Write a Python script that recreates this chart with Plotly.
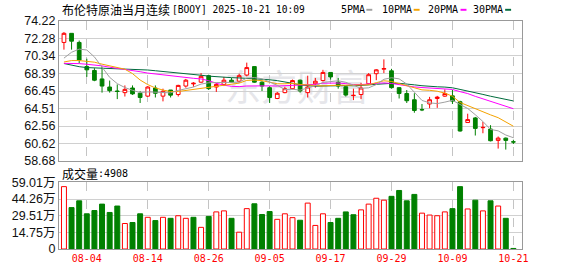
import numpy as np
import pandas as pd
import plotly.graph_objects as go

# ---------------- data ----------------
dates = [d.strftime("%Y-%m-%d") for d in pd.bdate_range("2025-07-30", "2025-10-21")]

opens = [71.84, 72.85, 71.84, 69.16, 68.73, 67.79, 66.89, 66.45, 66.27, 66.78,
         66.20, 65.88, 66.78, 65.88, 66.56, 66.06, 67.00, 67.24, 67.43, 68.15,
         66.89, 67.18, 67.65, 67.54, 68.22, 69.16, 67.43, 66.82, 65.62, 66.27,
         66.71, 67.65, 66.27, 67.25, 67.61, 68.51, 67.43, 66.92, 65.94, 66.06,
         67.25, 68.37, 68.87, 68.69, 66.82, 66.17, 65.48, 64.40, 65.01, 65.62,
         65.88, 65.91, 65.26, 62.95, 63.46, 62.38, 62.23, 60.97, 61.22, 60.81]
highs = [72.99, 72.85, 72.05, 70.03, 68.98, 69.16, 67.61, 67.18, 67.07, 67.07,
         66.42, 67.00, 67.07, 66.71, 66.56, 67.14, 67.79, 67.43, 68.44, 68.26,
         67.36, 68.01, 67.90, 68.37, 69.60, 69.16, 67.54, 66.99, 66.35, 66.92,
         67.72, 67.72, 68.15, 67.90, 68.80, 68.51, 67.90, 66.99, 66.71, 67.36,
         68.44, 68.87, 69.96, 68.91, 66.89, 66.56, 66.20, 65.01, 65.80, 65.91,
         66.63, 66.56, 65.37, 63.93, 63.57, 63.03, 62.66, 61.40, 61.29, 61.04]
lows = [71.04, 71.04, 69.52, 68.01, 67.54, 66.27, 66.27, 65.55, 65.84, 66.02,
        65.12, 65.80, 65.73, 65.30, 65.73, 65.84, 66.82, 66.92, 67.36, 66.56,
        66.35, 67.00, 67.36, 67.36, 68.08, 67.36, 66.45, 65.12, 65.55, 66.20,
        66.64, 66.27, 65.73, 66.82, 67.50, 67.72, 66.71, 65.84, 65.44, 65.55,
        67.18, 67.65, 68.44, 66.71, 65.62, 65.12, 64.04, 64.22, 64.54, 64.58,
        65.80, 65.01, 61.94, 62.95, 61.51, 61.76, 60.86, 60.06, 59.95, 60.57]
closes = [72.85, 71.98, 69.89, 68.80, 67.65, 67.00, 66.49, 66.40, 66.63, 66.13,
          65.73, 66.89, 66.20, 66.42, 65.99, 67.07, 67.65, 67.31, 68.08, 66.71,
          67.18, 67.65, 67.43, 68.15, 69.05, 67.43, 67.00, 65.73, 66.20, 66.71,
          67.61, 66.46, 66.89, 67.54, 68.51, 68.01, 67.00, 66.00, 65.97, 66.78,
          68.26, 68.80, 68.94, 66.82, 66.17, 65.37, 64.29, 64.36, 65.48, 65.77,
          66.17, 65.33, 62.01, 63.28, 62.30, 62.41, 60.93, 61.22, 60.97, 60.79]
volumes = [55.3, 36.7, 42.7, 31.2, 34.1, 39.8, 32.4, 38.1, 22.6, 23.5,
           31.2, 28.1, 25.2, 28.1, 27.2, 29.5, 27.2, 28.1, 19.2, 28.9,
           32.9, 33.8, 27.2, 14.9, 35.8, 40.1, 30.6, 33.2, 26.3, 31.2,
           27.8, 25.5, 40.7, 20.9, 31.2, 23.5, 27.2, 32.9, 30.4, 34.7,
           39.8, 45.0, 43.3, 46.7, 51.9, 42.7, 48.4, 31.8, 30.1, 29.5,
           32.9, 35.8, 55.3, 35.5, 43.3, 33.8, 42.7, 38.1, 27.2, 0.4908]

ma5_head = [70.10, 70.75, 71.10, 71.00]
ma10_head = [69.67, 69.83, 69.83, 69.78, 69.65, 69.43, 69.23, 69.10, 68.87]
ma20_head = [69.52, 69.52, 69.49, 69.42, 69.34, 69.24, 69.09, 68.98, 68.87, 68.69,
             68.59, 68.44, 68.33, 68.22, 68.15, 68.05, 67.93, 67.86, 67.79]
ma30_head = [69.50, 69.30, 69.15, 69.05, 69.02, 69.00, 68.98, 68.96, 68.93, 68.90,
             68.84, 68.78, 68.70, 68.63, 68.54, 68.45, 68.35, 68.27, 68.20, 68.10,
             68.02, 67.97, 67.93, 67.90, 67.86, 67.82, 67.77, 67.70, 67.60]

price_ticks = [58.68, 60.62, 62.56, 64.51, 66.45, 68.39, 70.34, 72.28, 74.22]
price_tick_text = ["58.68", "60.62", "62.56", "64.51", "66.45", "68.39", "70.34", "72.28", "74.22"]
vol_ticks = [0, 14.75, 29.51, 44.26, 59.01]
vol_tick_text = ["0", "14.75万", "29.51万", "44.26万", "59.01万"]
tick_dates = ["2025-08-04", "2025-08-14", "2025-08-26", "2025-09-05",
              "2025-09-17", "2025-09-29", "2025-10-09", "2025-10-21"]
tick_text = ["08-04", "08-14", "08-26", "09-05", "09-17", "09-29", "10-09", "10-21"]

title_cn = "布伦特原油当月连续"
title_code = "[BOOY] 2025-10-21 10:09"
vol_title = "成交量"
vol_last = ":4908"
ma_names = ["5PMA", "10PMA", "20PMA", "30PMA"]
watermark = "东方财富"

# ---------------- helpers ----------------
def moving_avg(head, n):
    c = np.array(closes)
    return list(head) + [float(c[i - n + 1:i + 1].mean()) for i in range(n - 1, len(c))]

ma5 = moving_avg(ma5_head, 5)
ma10 = moving_avg(ma10_head, 10)
ma20 = moving_avg(ma20_head, 20)
ma30 = moving_avg(ma30_head, 30)

RED = "#ff0000"
GREEN = "#008000"
MA_COLORS = ["#a0a0a0", "#f5a300", "#ff00ff", "#006b3c"]

W, H = 578, 276
ML, MR, MT, MB = 55, 56, 21, 21
PW, PH = W - ML - MR, H - MT - MB

def px(x):
    return (x - ML) / PW

def py(y):
    return (H - MB - y) / PH

up_vol = [closes[0] >= opens[0]] + [closes[i] >= closes[i - 1] for i in range(1, len(closes))]

fig = go.Figure()

fig.add_trace(go.Candlestick(
    x=dates, open=opens, high=highs, low=lows, close=closes,
    increasing=dict(line=dict(color=RED, width=1), fillcolor="#ffffff"),
    decreasing=dict(line=dict(color=GREEN, width=1), fillcolor=GREEN),
    whiskerwidth=0, showlegend=False, xaxis="x", yaxis="y"))

for vals, col in zip([ma30, ma20, ma10, ma5], MA_COLORS[::-1]):
    fig.add_trace(go.Scatter(x=dates, y=vals, mode="lines",
                             line=dict(color=col, width=1),
                             showlegend=False, hoverinfo="skip",
                             xaxis="x", yaxis="y"))

fig.add_trace(go.Bar(
    x=dates, y=volumes,
    marker=dict(color=["#ffffff" if u else GREEN for u in up_vol],
                line=dict(color=[RED if u else GREEN for u in up_vol], width=1)),
    showlegend=False, xaxis="x2", yaxis="y2"))

xcommon = dict(type="category", categoryorder="array", categoryarray=dates,
               range=[-0.65, 60.13], tickvals=tick_dates, ticktext=tick_text,
               showgrid=True, gridcolor="#c4c4c4", griddash="dash", gridwidth=1,
               showline=True, mirror=True, linecolor="#999999", linewidth=1,
               ticks="", zeroline=False, fixedrange=True)

fig.update_layout(
    width=W, height=H,
    margin=dict(l=ML, r=MR, t=MT, b=MB),
    paper_bgcolor="#ffffff", plot_bgcolor="#ffffff",
    bargap=0.35,
    xaxis=dict(**xcommon, anchor="y", showticklabels=False,
               rangeslider=dict(visible=False)),
    xaxis2=dict(**xcommon, anchor="y2", matches="x", showticklabels=True,
                tickfont=dict(family="DejaVu Sans Mono", size=10, color=RED)),
    yaxis=dict(domain=[py(164.7), 1.0], range=[58.68, 74.22],
               tickvals=price_ticks, ticktext=price_tick_text,
               showgrid=True, gridcolor="#d0d0d0", gridwidth=1,
               showline=True, mirror=True, linecolor="#999999", linewidth=1,
               ticks="", zeroline=False, fixedrange=True,
               tickfont=dict(family="Liberation Sans", size=12.5, color="#111111")),
    yaxis2=dict(domain=[0, py(186.7)], range=[0, 59.01],
                tickvals=vol_ticks, ticktext=vol_tick_text,
                showgrid=True, gridcolor="#d0d0d0", gridwidth=1,
                showline=True, mirror=True, linecolor="#999999", linewidth=1,
                ticks="", zeroline=False, fixedrange=True,
                tickfont=dict(family="Liberation Sans, Noto Sans CJK SC", size=12.5, color="#111111")),
)

ann = []
ann.append(dict(x=px(57), y=py(9.5), text=title_cn, showarrow=False, xanchor="left",
                yanchor="middle", font=dict(family="Noto Sans CJK SC", size=12, color="#000")))
ann.append(dict(x=px(168), y=py(9.5), text=title_code, showarrow=False, xanchor="left",
                yanchor="middle", font=dict(family="DejaVu Sans Mono", size=9.6, color="#000")))
ann.append(dict(x=px(57), y=py(177.5), text=vol_title, showarrow=False, xanchor="left",
                yanchor="middle", font=dict(family="Noto Sans CJK SC", size=12, color="#000")))
ann.append(dict(x=px(93), y=py(177.5), text=vol_last, showarrow=False, xanchor="left",
                yanchor="middle", font=dict(family="DejaVu Sans Mono", size=10, color="#000")))

legend_x = [338, 380, 425.7, 471.7]
dash_x = [365, 412.7, 460, 505]
shapes = []
# faint watermark, drawn beneath the data
shapes.append(dict(type="rect", xref="paper", yref="paper", layer="below",
                   x0=px(215), x1=px(375), y0=py(110), y1=py(75),
                   line=dict(width=0), fillcolor="rgba(0,0,0,0)",
                   label=dict(text=watermark, textposition="middle center",
                              font=dict(family="Noto Sans CJK SC", size=36, color="#e6e6ea"))))
for name, lx, dx, col in zip(ma_names, legend_x, dash_x, MA_COLORS):
    ann.append(dict(x=px(lx), y=py(9.5), text=name, showarrow=False, xanchor="left",
                    yanchor="middle", font=dict(family="DejaVu Sans Mono", size=10, color="#000")))
    shapes.append(dict(type="rect", xref="paper", yref="paper",
                       x0=px(dx), x1=px(dx + 6), y0=py(10.5), y1=py(8.5),
                       fillcolor=col, line=dict(width=0)))

for a in ann:
    a["xref"] = "paper"
    a["yref"] = "paper"
    a["xshift"] = -1
fig.update_layout(annotations=ann, shapes=shapes)

fig.write_html("out.html", config={"displayModeBar": False})
